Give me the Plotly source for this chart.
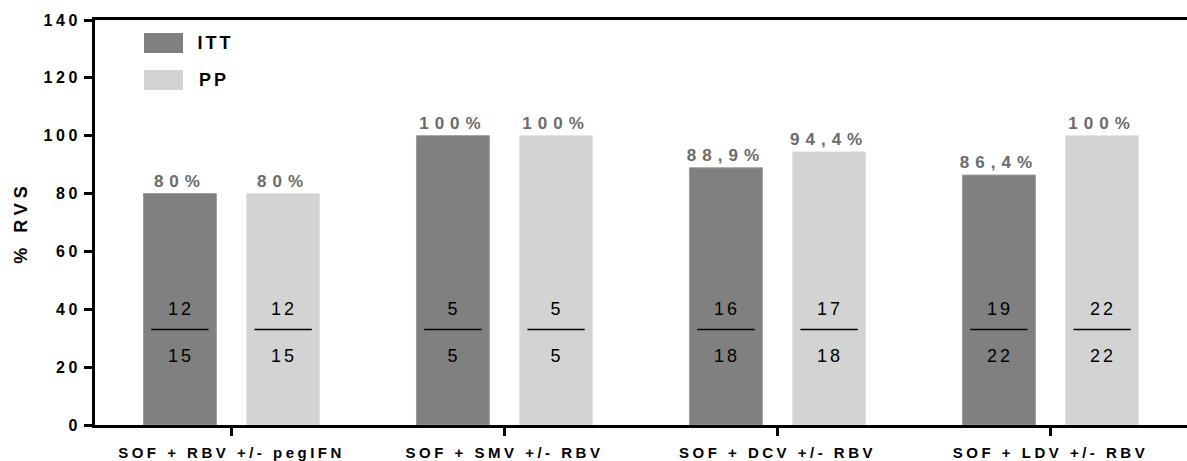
import plotly.graph_objects as go

categories = ["SOF + RBV +/- pegIFN", "SOF + SMV +/- RBV", "SOF + DCV +/- RBV", "SOF + LDV +/- RBV"]
series_names = ["ITT", "PP"]
itt_values = [80, 100, 88.9, 86.4]
pp_values = [80, 100, 94.4, 100]
itt_num = [12, 5, 16, 19]
itt_den = [15, 5, 18, 22]
pp_num = [12, 5, 17, 22]
pp_den = [15, 5, 18, 22]
y_ticks = [0, 20, 40, 60, 80, 100, 120, 140]

FONT = "Liberation Sans, Arial, sans-serif"
colors = ["#808080", "#d3d3d3"]
edge = ["#9a9a9a", "#e0e0e0"]
bar_w = 0.267
centers = [-0.189, 0.189]

def pct(v):
    return f"{v:g}".replace(".", ",") + "%"

xs = list(range(len(categories)))
fig = go.Figure()
for k, (name, vals) in enumerate(zip(series_names, [itt_values, pp_values])):
    fig.add_trace(go.Bar(
        x=xs, y=vals, name=name, width=bar_w, offset=centers[k] - bar_w / 2,
        marker=dict(color=colors[k], line=dict(color=edge[k], width=1)),
        text=[pct(v) for v in vals], textposition="outside",
        textfont=dict(family=FONT, size=17, color="#6b6b6b", weight="bold"),
        cliponaxis=False, showlegend=False,
    ))

annotations = []
shapes = []
for k, (nums, dens) in enumerate([(itt_num, itt_den), (pp_num, pp_den)]):
    for i in xs:
        cx = i + centers[k]
        annotations.append(dict(x=cx, y=40, text=str(nums[i]), showarrow=False, xshift=1,
                                font=dict(family=FONT, size=18, color="black"), xanchor="center", yanchor="middle"))
        annotations.append(dict(x=cx, y=24, text=str(dens[i]), showarrow=False, xshift=1,
                                font=dict(family=FONT, size=18, color="black"), xanchor="center", yanchor="middle"))
        shapes.append(dict(type="line", x0=cx - 0.105, x1=cx + 0.105, y0=33, y1=33,
                           xref="x", yref="y", line=dict(color="black", width=1.5)))

# legend drawn as swatches + labels
leg_y = [(0.968, 0.9185), (0.8765, 0.827)]
for k, name in enumerate(series_names):
    y1, y0 = leg_y[k]
    shapes.append(dict(type="rect", xref="paper", yref="paper", x0=0.0449, x1=0.0806, y0=y0, y1=y1,
                       fillcolor=colors[k], line=dict(width=0)))
    annotations.append(dict(xref="paper", yref="paper", x=0.096, y=(y0 + y1) / 2, text=name, showarrow=False,
                            xanchor="left", yanchor="middle",
                            font=dict(family=FONT, size=18, color="black", weight="bold")))

fig.update_layout(
    width=1187, height=461,
    margin=dict(l=95, r=0, t=20, b=36),
    plot_bgcolor="white", paper_bgcolor="white",
    barmode="overlay",
    annotations=annotations, shapes=shapes,
    xaxis=dict(range=[-0.5, 3.5], tickvals=xs, ticktext=categories, showgrid=False, zeroline=False,
               showline=True, linecolor="black", linewidth=3, mirror=True,
               ticks="outside", ticklen=8, tickwidth=3, tickcolor="black", ticklabelstandoff=4,
               tickfont=dict(family=FONT, size=15, color="black", weight="bold")),
    yaxis=dict(range=[0, 140], tickvals=y_ticks, showgrid=False, zeroline=False,
               showline=True, linecolor="black", linewidth=3,
               ticks="outside", ticklen=8, tickwidth=3, tickcolor="black",
               tickfont=dict(family=FONT, size=16, color="black", weight="bold"),
               title=dict(text="% RVS", standoff=22, font=dict(family=FONT, size=18, color="black", weight="bold"))),
)

post = """
var s=document.createElement('style');
s.innerHTML='body{margin:0;overflow:hidden} .xtick text{letter-spacing:3.5px} .ytick text{letter-spacing:3.5px} .bartext{letter-spacing:6px} .ytitle{letter-spacing:5px} .annotation-text{letter-spacing:3px}';
document.head.appendChild(s);
"""
fig.write_html("out.html", post_script=post, config={"displayModeBar": False})
